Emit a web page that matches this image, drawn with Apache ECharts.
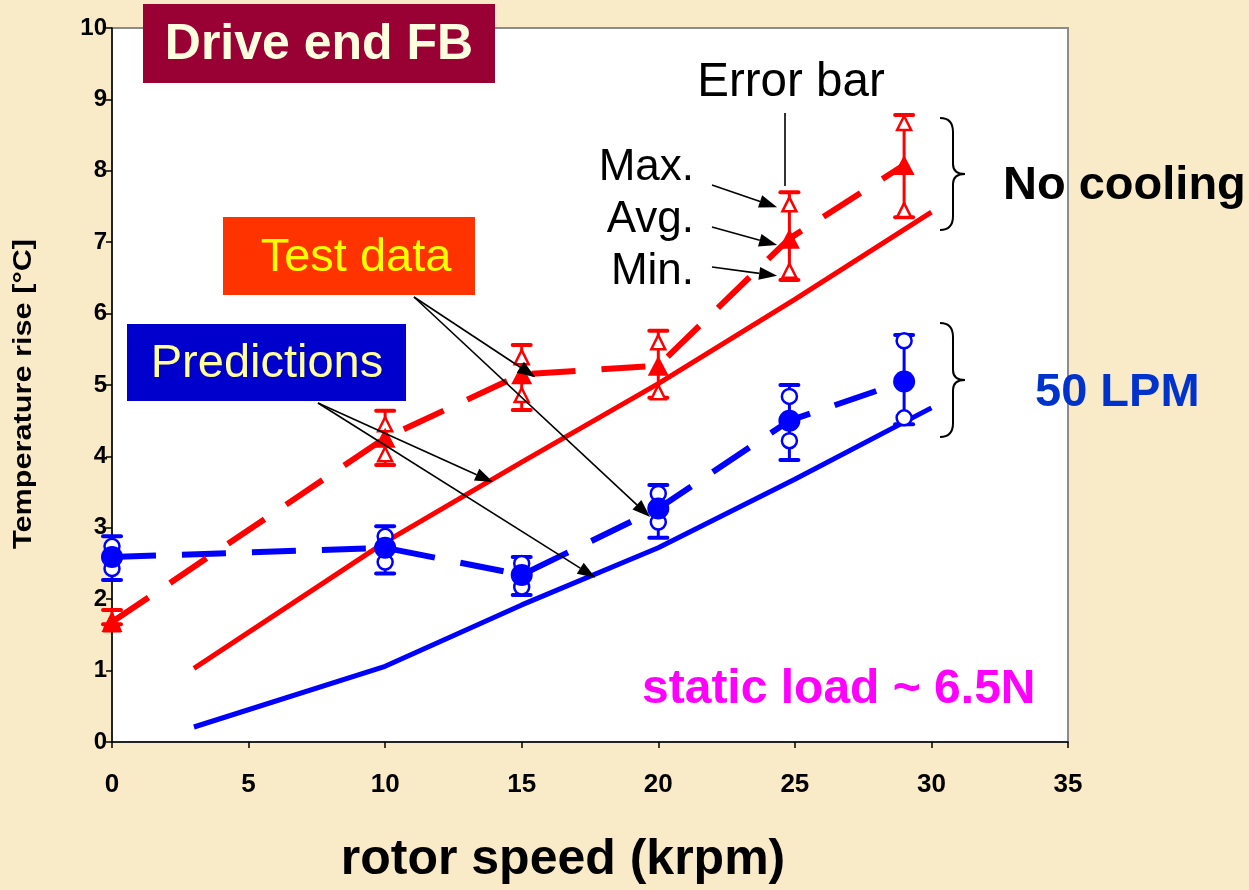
<!DOCTYPE html>
<html>
<head>
<meta charset="utf-8">
<script src="https://cdn.jsdelivr.net/npm/echarts@6/dist/echarts.min.js"></script>
<style>
  html, body { margin: 0; padding: 0; background: #f9eac8; }
  #chart { width: 1249px; height: 890px; }
</style>
</head>
<body>
<div id="chart"></div>
<script>
const FONT = '"Liberation Sans", Arial, Helvetica, sans-serif';

// Axis ranges and tick steps
const xRange = [0, 35];
const xStep = 5;
const yRange = [0, 10];
const yStep = 1;

// Rotor speeds (krpm) of the measured points
const testSpeeds = [0, 10, 15, 20, 24.8, 29];

// No cooling: measured temperature rise (°C)
const noCoolAvg   = [1.68, 4.26, 5.15, 5.27, 7.05, 8.08];
const noCoolMax   = [1.70, 4.45, 5.39, 5.60, 7.53, 8.67];
const noCoolMin   = [1.65, 4.03, 4.86, 4.90, 6.60, 7.45];
const noCoolBarHi = [1.85, 4.64, 5.56, 5.76, 7.70, 8.78];
const noCoolBarLo = [1.65, 3.88, 4.65, 4.82, 6.47, 7.35];

// 50 LPM cooling air: measured temperature rise (°C)
const lpmAvg   = [2.59, 2.72, 2.34, 3.27, 4.50, 5.05];
const lpmMax   = [2.74, 2.88, 2.50, 3.48, 4.84, 5.62];
const lpmMin   = [2.43, 2.52, 2.17, 3.08, 4.22, 4.54];
const lpmBarHi = [2.88, 3.02, 2.59, 3.60, 5.00, 5.70];
const lpmBarLo = [2.27, 2.36, 2.06, 2.86, 3.95, 4.45];

// Model predictions
const predSpeeds = [3, 10, 15, 20, 25, 30];
const predNoCool = [1.03, 2.80, 3.92, 5.02, 6.20, 7.42];
const predLpm    = [0.21, 1.06, 1.92, 2.72, 3.68, 4.68];

const RED = '#ff0000';
const BLUE = '#0000ff';

const pairs = (xs, ys) => xs.map((x, i) => [x, ys[i]]);

function errorBars(name, lo, hi, color) {
  return {
    type: 'custom',
    name,
    z: 3,
    data: testSpeeds.map((s, i) => [s, lo[i], hi[i]]),
    renderItem(params, api) {
      const x = api.value(0);
      const a = api.coord([x, api.value(1)]);
      const b = api.coord([x, api.value(2)]);
      const hw = 9;
      const cap = { stroke: color, lineWidth: 4, lineCap: 'round' };
      return {
        type: 'group',
        children: [
          { type: 'line', shape: { x1: a[0], y1: a[1], x2: b[0], y2: b[1] }, style: { stroke: color, lineWidth: 3 } },
          { type: 'line', shape: { x1: a[0] - hw, y1: a[1], x2: a[0] + hw, y2: a[1] }, style: cap },
          { type: 'line', shape: { x1: b[0] - hw, y1: b[1], x2: b[0] + hw, y2: b[1] }, style: cap }
        ]
      };
    }
  };
}

function openMarks(name, ys, symbol, size, color) {
  return {
    type: 'scatter',
    name,
    z: 3.5,
    symbol,
    symbolSize: size,
    data: pairs(testSpeeds, ys),
    itemStyle: { color: '#ffffff', borderColor: color, borderWidth: 2.5, opacity: 1 }
  };
}

const chart = echarts.init(document.getElementById('chart'), null, { renderer: 'canvas' });

const option = {
  animation: false,
  backgroundColor: '#f9eac8',
  grid: {
    left: 112, top: 28, right: 181, bottom: 148,
    show: true, backgroundColor: '#ffffff', borderColor: '#8c8c8c', borderWidth: 2
  },
  xAxis: {
    type: 'value', min: xRange[0], max: xRange[1], interval: xStep,
    axisLine: { lineStyle: { color: '#000', width: 1.5 } },
    axisTick: { show: true, length: 6, lineStyle: { color: '#000', width: 1.5 } },
    axisLabel: { margin: 30, color: '#000', fontFamily: FONT, fontWeight: 'bold', fontSize: 26 },
    splitLine: { show: false }
  },
  yAxis: {
    type: 'value', min: yRange[0], max: yRange[1], interval: yStep,
    axisLine: { show: true, lineStyle: { color: '#000', width: 1.5 } },
    axisTick: { show: true, length: 6, lineStyle: { color: '#000', width: 1.5 } },
    axisLabel: { margin: 5, color: '#000', fontFamily: FONT, fontWeight: 'bold', fontSize: 24 },
    splitLine: { show: false }
  },
  series: [
    {
      type: 'line', name: 'Prediction, no cooling', z: 2,
      data: pairs(predSpeeds, predNoCool), showSymbol: false, symbol: 'none',
      lineStyle: { color: RED, width: 5 }
    },
    {
      type: 'line', name: 'Prediction, 50 LPM', z: 2,
      data: pairs(predSpeeds, predLpm), showSymbol: false, symbol: 'none',
      lineStyle: { color: BLUE, width: 5 }
    },
    errorBars('Range, 50 LPM', lpmBarLo, lpmBarHi, BLUE),
    errorBars('Range, no cooling', noCoolBarLo, noCoolBarHi, RED),
    openMarks('Max, 50 LPM', lpmMax, 'circle', 15, BLUE),
    openMarks('Min, 50 LPM', lpmMin, 'circle', 15, BLUE),
    openMarks('Max, no cooling', noCoolMax, 'triangle', [14, 14], RED),
    openMarks('Min, no cooling', noCoolMin, 'triangle', [14, 14], RED),
    {
      type: 'line', name: 'Test avg, 50 LPM', z: 4,
      data: pairs(testSpeeds, lpmAvg), symbol: 'circle', symbolSize: 22, showSymbol: true,
      itemStyle: { color: BLUE },
      lineStyle: { color: BLUE, width: 6, type: [44, 26] }
    },
    {
      type: 'line', name: 'Test avg, no cooling', z: 4,
      data: pairs(testSpeeds, noCoolAvg), symbol: 'triangle', symbolSize: [21, 20], showSymbol: true,
      itemStyle: { color: RED },
      lineStyle: { color: RED, width: 6, type: [44, 26] }
    }
  ]
};

chart.setOption(option);

// ---- annotations -------------------------------------------------------
const toPx = (p) => chart.convertToPixel({ xAxisIndex: 0, yAxisIndex: 0 }, p);

function arrow(from, to) {
  const dx = to[0] - from[0], dy = to[1] - from[1];
  const len = Math.hypot(dx, dy);
  const ux = dx / len, uy = dy / len;
  const hl = 18, hw = 6.5;
  const bx = to[0] - ux * hl, by = to[1] - uy * hl;
  return [
    { type: 'line', z: 50, shape: { x1: from[0], y1: from[1], x2: bx, y2: by }, style: { stroke: '#000', lineWidth: 1.6 } },
    { type: 'polygon', z: 50, shape: { points: [[to[0], to[1]], [bx - uy * hw, by + ux * hw], [bx + uy * hw, by - ux * hw]] }, style: { fill: '#000' } }
  ];
}

function label(text, x, y, font, fill, align) {
  return {
    type: 'text', z: 60, x, y,
    style: { text, font, fill, textAlign: align || 'left', textVerticalAlign: 'middle' }
  };
}

function box(x, y, w, h, color) {
  return { type: 'rect', z: 55, shape: { x, y, width: w, height: h }, style: { fill: color } };
}

// curly brace "}" built from quadratic curves and straight runs
function brace(x0, top, mid, bottom) {
  const xv = x0 + 13, xt = x0 + 25;
  const st = { stroke: '#000', lineWidth: 2, fill: null };
  const curve = (x1, y1, cx, cy, x2, y2) => ({
    type: 'bezierCurve', z: 40, shape: { x1, y1, cpx1: cx, cpy1: cy, x2, y2 }, style: st
  });
  const seg = (x1, y1, x2, y2) => ({ type: 'line', z: 40, shape: { x1, y1, x2, y2 }, style: st });
  return [
    curve(x0, top, xv, top, xv, top + 14),
    seg(xv, top + 14, xv, mid - 10),
    curve(xv, mid - 10, xv, mid, xt, mid),
    curve(xt, mid, xv, mid, xv, mid + 10),
    seg(xv, mid + 10, xv, bottom - 14),
    curve(xv, bottom - 14, xv, bottom, x0, bottom)
  ];
}

const reg = (s) => `${s}px ${FONT}`;
const bold = (s) => `bold ${s}px ${FONT}`;

const els = [];

// title box
els.push(box(143, 4, 352, 79, '#990033'));
els.push(label('Drive end FB', 319, 45, bold(50), '#ffffe0', 'center'));

// test data / prediction call-outs
els.push(box(223, 217, 252, 78, '#ff3300'));
els.push(label('Test data', 356, 258, reg(47), '#ffff00', 'center'));
els.push(...arrow([414, 297], toPx([15.5, 5.11])));
els.push(...arrow([414, 297], toPx([19.7, 3.15])));

els.push(box(127, 324, 279, 77, '#0000cc'));
els.push(label('Predictions', 267, 364, reg(47), '#ffff99', 'center'));
els.push(...arrow([318, 403], toPx([13.95, 3.64])));
els.push(...arrow([318, 403], toPx([17.7, 2.30])));

// error bar legend
els.push(label('Error bar', 791, 83, reg(47.5), '#000', 'center'));
els.push({ type: 'line', z: 50, shape: { x1: 785, y1: 113, x2: 785, y2: 186 }, style: { stroke: '#000', lineWidth: 1.6 } });
els.push(label('Max.', 694, 168, reg(44), '#000', 'right'));
els.push(label('Avg.', 694, 220, reg(44), '#000', 'right'));
els.push(label('Min.', 694, 272, reg(44), '#000', 'right'));
els.push(...arrow([712, 185], toPx([24.35, 7.49])));
els.push(...arrow([712, 227], toPx([24.35, 6.96])));
els.push(...arrow([712, 267], toPx([24.35, 6.53])));

// group braces and names
els.push(...brace(940, 118, 174, 230));
els.push(...brace(940, 323, 380, 437));
els.push(label('No cooling', 1003, 186, bold(47), '#000', 'left'));
els.push(label('50 LPM', 1035, 393, bold(47), '#0033cc', 'left'));
els.push(label('static load ~ 6.5N', 642, 690, bold(48), '#ff00ff', 'left'));

// axis titles
els.push({
  type: 'text', z: 60, x: 24, y: 394, rotation: Math.PI / 2, scaleX: 1.18,
  style: { text: 'Temperature rise [°C]', font: bold(26), fill: '#000', textAlign: 'center', textVerticalAlign: 'middle' }
});
els.push(label('rotor speed (krpm)', 563, 860, bold(50), '#000', 'center'));

chart.setOption({ graphic: { elements: els } });
</script>
</body>
</html>
